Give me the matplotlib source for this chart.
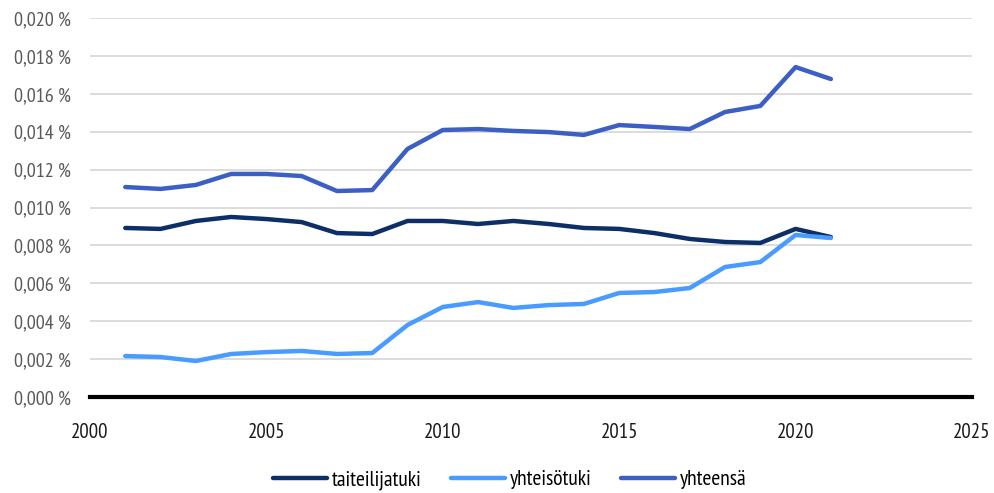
import matplotlib
matplotlib.use("Agg")
import matplotlib.pyplot as plt
from matplotlib.ticker import FuncFormatter, MultipleLocator

plt.rcParams['font.family'] = ['PT Sans Narrow', 'DejaVu Sans']

years = list(range(2001, 2022))
taiteilijatuki = [0.00892, 0.00887, 0.00929, 0.00950, 0.00939, 0.00923, 0.00865, 0.00860,
                  0.00929, 0.00929, 0.00913, 0.00929, 0.00913, 0.00892, 0.00887, 0.00865,
                  0.00834, 0.00818, 0.00813, 0.00887, 0.00844]
yhteisotuki = [0.00216, 0.00211, 0.00190, 0.00227, 0.00237, 0.00243, 0.00227, 0.00232,
               0.00380, 0.00475, 0.00501, 0.00470, 0.00485, 0.00491, 0.00549, 0.00554,
               0.00575, 0.00686, 0.00712, 0.00855, 0.00839]
yhteensa = [0.01108, 0.01098, 0.01119, 0.01177, 0.01177, 0.01166, 0.01087, 0.01092,
            0.01309, 0.01409, 0.01414, 0.01404, 0.01398, 0.01383, 0.01435, 0.01425,
            0.01414, 0.01504, 0.01536, 0.01741, 0.01678]

fig = plt.figure(figsize=(9.94, 4.93), dpi=100)
ax = fig.add_axes([90/994, 1-397/493, (972-90)/994, (397-18)/493])

lw = 3.2
ax.plot(years, taiteilijatuki, color='#0c2f68', lw=lw, label='taiteilijatuki', solid_capstyle='round')
ax.plot(years, yhteisotuki, color='#4a9bff', lw=lw, label='yhteisötuki', solid_capstyle='round')
ax.plot(years, yhteensa, color='#3c5fc4', lw=lw, label='yhteensä', solid_capstyle='round')

ax.set_xlim(2000, 2025)
ax.set_ylim(0, 0.020)
ax.xaxis.set_major_locator(MultipleLocator(5))
ax.yaxis.set_major_locator(MultipleLocator(0.002))
ax.yaxis.set_major_formatter(FuncFormatter(lambda v, p: f"{v:.3f}".replace('.', ',') + " %"))

ax.grid(axis='y', color='#d9d9d9', lw=1.3)
ax.set_axisbelow(True)
for s in ['top', 'right', 'left']:
    ax.spines[s].set_visible(False)
ax.spines['bottom'].set_color('black')
ax.spines['bottom'].set_linewidth(3)
ax.spines['bottom'].set_zorder(5)
ax.tick_params(axis='both', length=0)
ax.tick_params(axis='y', labelsize=14.5, labelcolor='#595959', pad=14)
ax.tick_params(axis='x', labelsize=15, labelcolor='#1a1a1a', pad=18.5)

ax.legend(loc='center', bbox_to_anchor=(0.476, -0.219), ncol=3, frameon=False,
          fontsize=15.5, handlelength=2.5, handletextpad=0.25, columnspacing=1.35)

fig.savefig('out.png', dpi=100)
